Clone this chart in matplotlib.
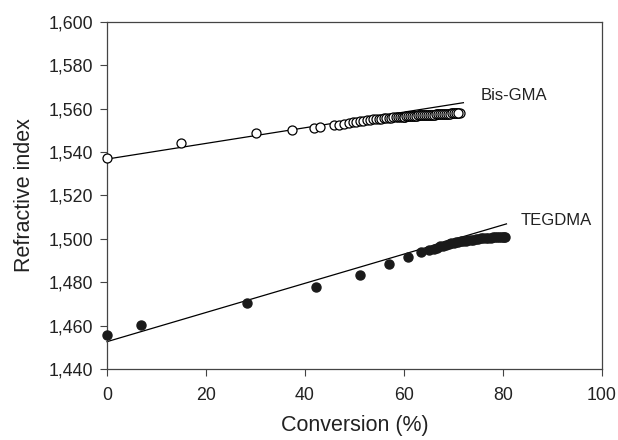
import numpy as np
import matplotlib
matplotlib.use("Agg")
import matplotlib.pyplot as plt
from matplotlib.ticker import FuncFormatter

plt.rcParams['font.family'] = ['Liberation Sans', 'DejaVu Sans']

# Bis-GMA (open circles)
bis_x = [0.0, 14.9, 30.0, 37.3, 41.9, 43.0, 45.8,
         46.9, 47.9, 48.8, 49.6, 50.4, 51.1, 51.8, 52.5, 53.1, 53.7, 54.3, 54.9,
         55.4, 55.9, 56.4, 56.9, 57.4, 57.8, 58.3, 58.7, 59.1, 59.5, 59.9, 60.3,
         60.7, 61.1, 61.5, 61.9, 62.3, 62.7, 63.1, 63.5, 63.9, 64.3, 64.7, 65.1,
         65.5, 65.9, 66.3, 66.7, 67.1, 67.5, 67.9, 68.3, 68.7, 69.1, 69.5, 69.9,
         70.3, 70.7, 71.0, 71.3,
         60.1, 60.5, 60.9, 61.3, 61.7, 62.1, 62.5, 62.9, 63.3, 63.7, 64.1, 64.5,
         64.9, 65.3, 65.7, 66.1, 66.5, 66.9, 67.3, 67.7, 68.1, 68.5, 68.9, 69.3,
         69.7, 70.1, 70.5, 70.9]
bis_y = [1.5374, 1.5444, 1.5488, 1.5502, 1.5511, 1.5515, 1.5524,
         1.5527, 1.5531, 1.5535, 1.5538, 1.5541, 1.5543, 1.5545, 1.5547, 1.5549, 1.5551, 1.5553, 1.5554,
         1.5555, 1.5556, 1.5557, 1.5558, 1.5559, 1.5560, 1.5561, 1.5562, 1.5562, 1.5563, 1.5563, 1.5564,
         1.5565, 1.5566, 1.5566, 1.5567, 1.5568, 1.5568, 1.5569, 1.5569, 1.5570, 1.5570, 1.5571, 1.5571,
         1.5572, 1.5573, 1.5573, 1.5574, 1.5575, 1.5575, 1.5576, 1.5577, 1.5577, 1.5578, 1.5579, 1.5579,
         1.5580, 1.5581, 1.5581, 1.5582,
         1.5564, 1.5565, 1.5565, 1.5566, 1.5567, 1.5567, 1.5568, 1.5569, 1.5569, 1.5570, 1.5570, 1.5571,
         1.5571, 1.5572, 1.5572, 1.5573, 1.5574, 1.5574, 1.5575, 1.5576, 1.5576, 1.5577, 1.5578, 1.5578,
         1.5579, 1.5580, 1.5580, 1.5581]

# TEGDMA (filled circles)
teg_x = [0.0, 6.8, 28.3, 42.2, 51.2, 57.0, 60.9, 63.4, 65.1,
         66.0, 66.7, 67.3, 67.9, 68.5, 69.0, 69.5, 70.0, 70.5, 71.0, 71.5, 72.0,
         72.5, 73.0, 73.5, 74.0, 74.5, 75.0, 75.5, 76.0, 76.5, 77.0, 77.5, 78.0,
         78.4, 78.8, 79.2, 79.6, 79.9, 80.2, 80.4]
teg_y = [1.4555, 1.4604, 1.4706, 1.4778, 1.4835, 1.4884, 1.4918, 1.4938, 1.4950,
         1.4955, 1.4960, 1.4965, 1.4969, 1.4973, 1.4976, 1.4979, 1.4981, 1.4984, 1.4986, 1.4988, 1.4990,
         1.4992, 1.4994, 1.4996, 1.4997, 1.4999, 1.5000, 1.5002, 1.5003, 1.5004, 1.5005, 1.5006, 1.5007,
         1.5008, 1.5008, 1.5009, 1.5009, 1.5010, 1.5010, 1.5010]

# linear trendlines: (intercept, slope, x end)
bis_fit = (1.5368, 0.000361, 72.0)
teg_fit = (1.4526, 0.000673, 80.7)

fig = plt.figure(figsize=(6.18, 4.4), dpi=100)
ax = fig.add_axes([107 / 618, 71 / 440, 495 / 618, 347 / 440])

ax.plot(bis_x, bis_y, 'o', mfc='white', mec='black', mew=0.9, ms=6.5, zorder=3)
ax.plot(teg_x, teg_y, 'o', mfc='#1a1a1a', mec='#1a1a1a', ms=6.5, zorder=3)

for b0, b1, xe in [bis_fit, teg_fit]:
    xs = np.array([0, xe])
    ax.plot(xs, b0 + b1 * xs, color='black', lw=0.9, zorder=2)

ax.text(75.4, 1.5659, "Bis-GMA", fontsize=12, va='center', color='#222222')
ax.text(83.5, 1.5087, "TEGDMA", fontsize=12, va='center', color='#222222')

ax.set_xlim(0, 100)
ax.set_ylim(1.44, 1.60)
ax.set_xticks(np.arange(0, 101, 20))
ax.set_yticks(np.arange(1.44, 1.6001, 0.02))
ax.yaxis.set_major_formatter(FuncFormatter(lambda v, p: f"{v:.3f}".replace('.', ',')))
ax.tick_params(direction='out', length=5, width=0.8, labelsize=12.8, color='#444444',
               labelcolor='#222222')
ax.tick_params(axis='x', pad=8)
ax.tick_params(axis='y', pad=5)
for s in ax.spines.values():
    s.set_color('#444444')
    s.set_linewidth(0.9)

ax.set_xlabel("Conversion (%)", fontsize=15.5, labelpad=8, color='#222222')
ax.set_ylabel("Refractive index", fontsize=15.5, labelpad=10, color='#222222')
for l in ax.lines:
    l.set_clip_on(False)

fig.savefig("out.png", dpi=100)
